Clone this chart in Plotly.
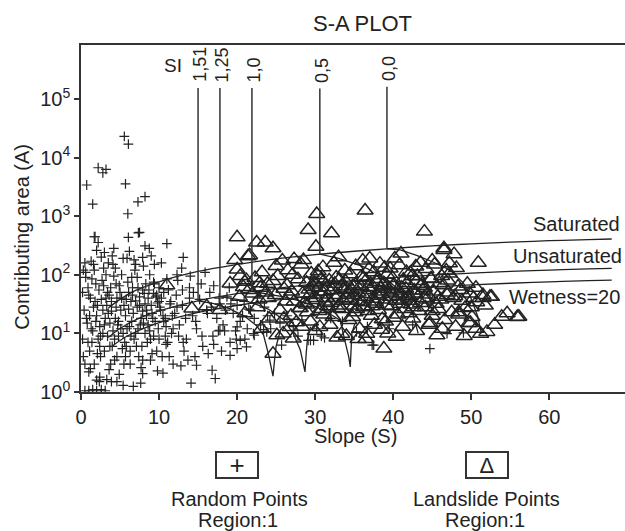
import math
import plotly.graph_objects as go

# ---------------- data ----------------
# Random points (crosses): slope (deg) and contributing area
random_S = [
    5.55, 6.07, 2.2, 2.8, 3.2, 0.73, 5.7, 1.5, 7.3, 8.2,
    1.7, 6.07, 7.5, 7.35, 4.2, 8.2, 8.75, 7.9, 13.1, 1.8,
    2.2, 0.5, 1.0, 1.5, 2.0, 2.6, 3.1, 2.35, 3.9, 5.4,
    6.7, 7.65, 14.1, 7.9, 10.5, 14.8, 16.8, 17.2, 2.4, 3.3,
    4.6, 19.1, 20.0, 21.2, 20.4, 17.8, 22.1, 20.0, 23.8, 25.7,
    29.4, 22.2, 23.4, 24.2, 29.1, 29.8, 35.3, 37.5, 44.7, 46.9,
    49.0, 37.3, 30.8, 31.2, 0.3, 0.6, 9.4, 12.3, 11.0, 6.0,
    0.4, 0.9, 1.3, 1.8, 2.2, 2.7, 3.1, 3.6, 4.0, 4.5,
    4.9, 5.4, 5.8, 6.3, 6.7, 7.2, 7.6, 8.1, 8.5, 9.0,
    9.4, 9.9, 10.3, 10.8, 11.2, 11.7, 0.6, 1.1, 1.6, 2.0,
    2.5, 2.9, 3.4, 3.8, 4.3, 4.7, 5.2, 5.6, 6.1, 6.5,
    7.0, 7.4, 7.9, 8.3, 8.8, 9.2, 9.7, 10.1, 10.6, 11.0,
    0.2, 0.8, 1.2, 1.7, 2.3, 2.8, 3.3, 3.7, 4.2, 4.6,
    5.1, 5.5, 6.0, 6.4, 6.9, 7.3, 7.8, 8.2, 8.7, 9.1,
    9.6, 10.0, 10.5, 10.9, 11.4, 11.8, 0.5, 1.0, 1.4, 1.9,
    2.4, 2.8, 3.2, 3.7, 4.1, 4.6, 5.0, 5.5, 5.9, 6.4,
    6.8, 7.3, 7.7, 8.2, 8.6, 9.1, 9.5, 10.0, 10.4, 10.9,
    1.1, 1.6, 2.1, 2.6, 3.0, 3.5, 3.9, 4.4, 4.8, 5.3,
    5.7, 6.2, 6.6, 7.1, 7.5, 8.0, 8.4, 8.9, 9.3, 9.8,
    1.3, 2.6, 3.5, 4.4, 5.9, 7.0, 3.0, 4.0, 2.0, 6.2,
    12.2, 12.6, 13.0, 13.5, 13.9, 14.3, 14.8, 15.2, 15.6, 16.1,
    16.5, 16.9, 17.4, 17.8, 18.2, 18.7, 19.1, 19.5, 20.0, 20.4,
    20.9, 21.3, 21.7, 22.2, 22.6, 23.0, 23.5, 23.9, 24.3, 24.8,
    12.4, 13.2, 14.0, 14.6, 15.4, 16.3, 17.0, 18.0, 19.0, 13.7,
    15.9, 17.6, 11.8, 12.9, 14.4, 16.7, 18.5, 19.8, 21.0, 25.5,
    26.4, 27.2, 28.3, 30.2, 33.5, 36.7, 39.5, 42.5, 27.8, 32.0,
    0.3, 0.7, 1.2, 1.5, 2.1, 2.4, 3.0, 3.4, 3.9, 4.3,
    4.8, 5.2, 5.7, 6.1, 6.6, 7.0, 7.5, 7.9, 8.4, 8.8,
    9.3, 9.7, 10.2, 10.6, 11.1, 11.5, 12.0, 12.5, 13.0, 13.4,
    0.9, 1.4, 1.9, 2.5, 3.2, 3.8, 4.5, 5.1, 5.8, 6.5,
    7.2, 7.9, 8.6, 9.3, 10.0, 10.8, 11.6, 12.3, 13.1, 13.9,
    14.7, 15.5, 16.2, 17.0, 17.7, 18.4, 19.2, 19.9, 20.7, 21.5,
    0.2, 0.5, 1.7, 2.9, 4.1, 5.4, 6.8, 8.0, 9.0, 10.3,
    1.0, 2.0, 3.6, 4.9, 6.3, 7.7, 8.9, 9.8, 11.3, 12.8,
]
random_A = [
    23000, 17000, 6700, 5500, 6300, 3400, 3550, 1600, 1750, 2150,
    445, 435, 530, 520, 283, 310, 283, 198, 198, 445,
    355, 1.05, 1.05, 1.1, 1.05, 1.1, 1.05, 1.5, 1.5, 1.3,
    1.25, 1.42, 1.42, 2.06, 2.1, 2.86, 2.35, 1.7, 1.8, 1.63,
    1.5, 4.2, 5.5, 5.9, 7.6, 11.3, 9.9, 12.9, 10.6, 6.3,
    7.6, 9.3, 11.6, 16.8, 7.6, 7.6, 10.6, 6.3, 5.5, 9.9,
    10.2, 6.3, 9.0, 8.4, 120, 110, 150, 100, 340, 1100,
    25, 60, 12, 35, 8, 80, 18, 45, 6, 28,
    65, 10, 38, 5, 22, 90, 14, 48, 7, 30,
    70, 12, 40, 9, 55, 20, 90, 5, 150, 20,
    4, 130, 9, 60, 3.5, 14, 100, 7, 50, 16,
    36, 4, 24, 70, 11, 18, 5, 28, 16, 85,
    8, 15, 40, 3, 55, 10, 30, 6, 95, 40,
    25, 3, 75, 9, 120, 12, 6, 32, 55, 4.5,
    42, 8, 20, 6.5, 32, 12, 3, 45, 7, 70,
    13, 25, 100, 15, 11, 4, 50, 30, 12, 35,
    8, 60, 18, 10, 40, 22, 16, 60, 4, 13,
    20, 28, 4.5, 38, 5, 22, 35, 18, 9, 5.5,
    20, 13, 45, 6, 30, 15, 25, 8, 48, 33,
    170, 200, 160, 130, 190, 150, 240, 210, 260, 250,
    45, 14, 30, 8, 60, 20, 12, 38, 6, 25,
    50, 9, 18, 32, 14, 42, 7, 22, 30, 16,
    35, 12, 25, 18, 40, 14, 28, 20, 12, 22,
    80, 5, 95, 4, 70, 4.5, 65, 5, 60, 3.5,
    110, 11, 3, 130, 50, 28, 25, 11, 8, 15,
    20, 13, 17, 12, 16, 13, 12, 14, 9, 18,
    4, 18, 2.5, 11, 30, 6, 14, 50, 24, 8,
    16, 40, 4, 26, 60, 10, 42, 3.5, 20, 100,
    9, 45, 25, 50, 7, 35, 22, 9, 55, 18,
    7, 85, 16, 9, 40, 3, 70, 12, 6, 90,
    28, 55, 14, 75, 35, 18, 10, 28, 7, 40,
    16, 9, 22, 6.5, 40, 11, 32, 8, 20, 26,
    50, 160, 120, 65, 150, 190, 180, 140, 210, 160,
    2.2, 1.6, 2.4, 2.0, 3.0, 2.6, 3.5, 2.3, 4.0, 2.8,
]

# Landslide points (triangles)
landslide_S = [
    36.4, 30.2, 29.1, 32.1, 44.0, 30.1, 46.5, 50.9, 37.0, 56.1,
    53.9, 52.6, 38.8, 45.6, 51.2, 52.0, 49.7, 33.4, 30.6, 36.6,
    20.0, 22.5, 23.6, 24.6, 21.4, 19.7, 20.0, 25.0, 11.0, 28.5,
    21.2, 14.2, 16.1, 25.1, 24.6, 26.8, 19.1, 21.0, 17.8, 21.6,
    20.4, 23.0, 54.6, 53.0, 51.8, 50.3, 47.8, 41.0, 35.5, 26.0,
    46.5, 47.2, 51.5, 55.9, 49.9, 52.4, 48.4, 50.6, 45.0, 43.1,
    20.8, 22.3, 23.9, 25.2, 26.4, 27.8, 28.9, 30.3, 31.5, 32.7,
    33.9, 34.8, 35.9, 37.1, 38.0, 39.2, 40.1, 41.3, 42.4, 43.6,
    44.8, 45.9, 47.0, 48.3, 49.5, 50.6, 27.1, 31.0, 36.5, 41.8,
    38.7, 33.1, 29.7, 24.6, 46.2, 43.0, 39.9, 35.2, 30.8, 22.9,
    26.5, 28.2, 29.5, 31.0, 32.4, 33.8, 35.2, 36.1, 37.5, 38.3,
    39.6, 40.8, 41.7, 42.9, 44.2, 45.3, 46.8, 48.1, 27.3, 30.4,
    34.5, 38.9, 43.5, 47.2, 23.2, 25.8, 33.0, 40.2, 36.9, 42.2,
    20.3, 21.5, 22.8, 23.7, 24.9, 26.0, 27.3, 28.4, 29.2, 30.1,
    31.2, 32.0, 33.0, 33.7, 34.6, 35.5, 36.3, 37.0, 37.8, 38.6,
    39.4, 40.3, 41.0, 41.9, 42.7, 43.5, 44.4, 45.2, 46.1, 47.0,
    47.9, 48.8, 49.8, 50.7, 51.5, 28.9, 32.6, 36.0, 39.0, 42.3,
    45.7, 34.2, 26.7, 30.7, 38.2, 43.9, 35.0, 40.7, 29.6, 37.4,
    21.0, 22.6, 24.1, 25.5, 26.9, 28.0, 29.4, 30.5, 31.6, 32.3,
    33.4, 34.3, 35.1, 36.2, 37.2, 38.1, 39.0, 39.8, 40.6, 41.5,
    42.5, 43.3, 44.1, 45.0, 45.8, 46.6, 47.5, 48.4, 49.2, 50.1,
    27.6, 31.1, 34.8, 38.6, 42.0, 44.7, 36.8, 33.0, 40.1, 29.0,
    23.1, 25.9, 28.3, 30.0, 31.9, 34.0, 35.7, 37.6, 39.3, 41.2,
    43.0, 44.6, 46.3, 48.0, 49.1, 32.8, 36.5, 40.4, 38.5, 27.2,
    27.0, 28.6, 30.0, 31.4, 32.9, 34.1, 35.4, 36.8, 38.0, 39.1,
    40.0, 41.4, 42.8, 44.0, 45.5, 46.9, 28.1, 29.9, 32.2, 33.6,
    35.8, 37.3, 38.8, 40.5, 42.1, 43.7, 45.0, 30.9, 34.9, 39.6,
    31.8, 36.2, 41.1, 44.9, 33.3, 37.9, 42.6, 35.3, 40.9, 38.4,
    29.3, 32.5, 43.8, 46.4, 48.6, 26.2, 24.0, 22.0, 47.7, 50.0,
    31.3, 34.0, 37.7, 39.7, 41.6, 36.6, 34.7, 44.3, 30.5, 42.0,
]
landslide_A = [
    1250, 1090, 580, 510, 545, 300, 283, 160, 190, 19.2,
    19.2, 42, 5.5, 9.3, 9.9, 10.6, 15.1, 9.9, 12.9, 9.9,
    435, 355, 355, 283, 208, 178, 123, 141, 66, 178,
    81, 26.6, 29, 9.3, 4.5, 12.9, 71, 76, 25, 215,
    95, 60, 22, 14, 30, 40, 225, 230, 8, 18,
    265, 157, 40, 19, 15, 42, 23, 12, 175, 95,
    62, 88, 70, 95, 66, 84, 73, 98, 61, 90,
    77, 64, 92, 70, 85, 100, 68, 82, 94, 65,
    86, 72, 80, 63, 70, 60, 100, 75, 80, 72,
    66, 82, 62, 78, 95, 78, 88, 68, 86, 72,
    120, 150, 105, 135, 160, 118, 140, 175, 110, 155,
    128, 145, 112, 138, 125, 150, 118, 130, 185, 115,
    102, 132, 160, 105, 110, 175, 200, 190, 125, 108,
    42, 55, 38, 50, 45, 58, 35, 48, 56, 40,
    52, 33, 45, 58, 38, 50, 42, 55, 32, 47,
    57, 36, 48, 41, 54, 33, 46, 52, 38, 50,
    43, 36, 48, 34, 45, 31, 40, 34, 38, 31,
    42, 48, 44, 46, 52, 40, 30, 44, 37, 39,
    22, 28, 18, 25, 20, 27, 16, 24, 29, 19,
    26, 17, 23, 28, 20, 25, 16, 29, 21, 26,
    18, 24, 28, 20, 26, 17, 23, 21, 27, 19,
    15.5, 21, 19, 17.5, 22, 15, 24, 30, 18.5, 23,
    12, 10, 13, 11, 14, 9, 12, 14, 10, 13,
    11, 14, 12, 13, 9, 8.5, 8, 8.8, 11.5, 8.2,
    52, 33, 68, 40, 27, 58, 36, 62, 44, 30,
    65, 38, 48, 60, 32, 45, 27, 74, 55, 36,
    64, 29, 72, 54, 36, 70, 24, 26, 45, 42,
    80, 88, 60, 85, 63, 75, 28, 26, 32, 58,
    45, 70, 54, 66, 55, 35, 40, 48, 40, 28,
    35, 40, 35, 50, 58, 47, 55, 38, 60, 44,
]

# Wetness lines
line_S = [3.5, 5, 7, 10, 15, 20, 25, 30, 35, 40, 45, 50, 55, 60, 65, 68]
saturated_A = [27, 38, 54, 76, 114, 150, 186, 220, 252, 283, 311, 337, 360, 381, 399, 408]
unsaturated_A = [8.5, 12.1, 17, 24.1, 36, 47.5, 58.7, 69.5, 79.7, 89.3, 98.3, 106.5, 113.9, 120.4, 126, 128.9]
wet20_S = [4, 6, 9, 13, 17, 21, 25, 30, 35, 40, 45, 50, 55, 60, 65, 68]
wet20_A = [6.1, 9.1, 13.7, 19.7, 25.6, 31.4, 37, 43.8, 50.2, 56.2, 61.9, 67, 71.7, 75.8, 79.3, 81.1]

# Stability index lines: label, vertical-line slope, top area, then lower curve
si_labels = ["1,51", "1,25", "1,0", "0,5", "0,0"]
si_slope = [15.0, 17.8, 21.9, 30.6, 39.2]
si_top_A = [1.53e5, 1.53e5, 1.53e5, 1.5e5, 1.62e5]
si_curve_S = [
    [15.0, 17.0, 19.0, 21.0, 22.5, 23.4, 24.0, 24.4, 24.6, 24.8, 25.0, 25.6],
    [17.8, 20.0, 22.0, 24.0, 26.0, 27.2, 28.1, 28.5, 28.7, 28.85, 29.0, 29.4],
    [21.9, 24.0, 26.0, 28.0, 30.0, 32.0, 33.2, 33.8, 34.3, 34.5, 34.7, 35.1],
    [30.6, 33.0, 36.0, 39.0, 41.0, 42.5, 43.2],
    [39.2, 40.9, 43.0, 45.1, 47.3, 49.0, 49.9, 50.8, 51.3],
]
si_curve_A = [
    [36, 32.2, 26.4, 19.5, 13.5, 9.3, 4.5, 2.4, 1.86, 3.5, 6.0, 12],
    [42.5, 38, 33, 26, 17, 9.9, 5.2, 3.1, 2.2, 4.5, 7.6, 13],
    [52, 47, 42, 36, 29, 21, 16.8, 7.6, 4.0, 2.67, 9.9, 15],
    [224, 190, 140, 90, 50, 22, 10],
    [278, 265, 215, 165, 120, 72, 42, 20, 10],
]

# tick values
x_ticks = [0, 10, 20, 30, 40, 50, 60]
y_ticks = [1, 10, 100, 1000, 10000, 100000]
y_ticktext = ["10<sup>0</sup>", "10<sup>1</sup>", "10<sup>2</sup>", "10<sup>3</sup>",
              "10<sup>4</sup>", "10<sup>5</sup>"]

# ---------------- figure ----------------
INK = "#222222"
FONT = "Liberation Sans, Arial, Helvetica, sans-serif"
X_RANGE = [0, 69.7]
Y_RANGE = [0, 5.92]

fig = go.Figure()


def add_line(xs, ys, width=1.3, color=INK, shape="linear"):
    fig.add_trace(go.Scatter(x=xs, y=ys, mode="lines", hoverinfo="skip", showlegend=False,
                             line=dict(color=color, width=width, shape=shape)))


fig.add_trace(go.Scatter(x=random_S, y=random_A, mode="markers", showlegend=False,
                         marker=dict(symbol="cross-thin-open", size=7, color=INK,
                                     line=dict(color=INK, width=1.2))))
fig.add_trace(go.Scatter(x=landslide_S, y=landslide_A, mode="markers", showlegend=False,
                         marker=dict(symbol="triangle-up-open", size=14, color=INK,
                                     line=dict(color=INK, width=1.5))))

add_line(line_S, saturated_A, shape="spline")
add_line(line_S, unsaturated_A, shape="spline")
add_line(wet20_S, wet20_A, shape="spline")

for i in range(len(si_labels)):
    bottom = si_curve_A[i][0]
    add_line([si_slope[i], si_slope[i]], [si_top_A[i], bottom], width=1.5, color="#333333")
    add_line(si_curve_S[i], si_curve_A[i])
    fig.add_annotation(x=si_slope[i], y=math.log10(si_top_A[i]), xref="x", yref="y",
                       text=si_labels[i], textangle=-90, showarrow=False,
                       xanchor="center", yanchor="bottom", yshift=4, xshift=2,
                       font=dict(size=18, family=FONT, color=INK))

fig.add_annotation(x=13.2, y=math.log10(1.53e5), xref="x", yref="y", text="SI",
                   showarrow=False, xanchor="right", yanchor="bottom", yshift=10,
                   font=dict(size=19, family=FONT, color=INK))

# helpers to convert reference pixel positions to paper coords
L, T, W, H = 81, 45, 544, 346.7


def px(x):
    return (x - L) / W


def py(y):
    return (T + H - y) / H


texts = [
    ("S-A PLOT", 362, 23.5, 22, "center"),
    ("Saturated", 622, 224, 20, "right"),
    ("Unsaturated", 624, 256, 20, "right"),
    ("Wetness=20", 622, 297, 20, "right"),
    ("Slope (S)", 355, 436, 20, "center"),
    ("Random Points", 239, 499, 20, "center"),
    ("Region:1", 238, 520, 20, "center"),
    ("Landslide Points", 486, 499, 20, "center"),
    ("Region:1", 485, 520, 20, "center"),
]
for t, x, y, s, anc in texts:
    fig.add_annotation(x=px(x), y=py(y), xref="paper", yref="paper", text=t, showarrow=False,
                       xanchor=anc, yanchor="middle", font=dict(size=s, family=FONT, color=INK))

fig.add_annotation(x=px(22), y=py(236.5), xref="paper", yref="paper", text="Contributing area (A)",
                   textangle=-90, showarrow=False, xanchor="center", yanchor="middle",
                   font=dict(size=20, family=FONT, color=INK))

# legend boxes
for sym, cx, fs in [("+", 237, 26), ("Δ", 487, 22)]:
    fig.add_annotation(x=px(cx), y=py(465), xref="paper", yref="paper", text=sym, showarrow=False,
                       xanchor="center", yanchor="middle", width=38, height=22,
                       bordercolor="#333333", borderwidth=2, borderpad=1, bgcolor="white",
                       font=dict(size=fs, family=FONT, color=INK))

minor_vals = [m * 10 ** d for d in range(0, 6) for m in range(2, 10)]

fig.update_layout(
    width=625, height=531,
    margin=dict(l=81, r=0, t=45, b=139, pad=0),
    paper_bgcolor="white", plot_bgcolor="white",
    showlegend=False,
    font=dict(family=FONT, color=INK),
    xaxis=dict(range=X_RANGE, showgrid=False, zeroline=False, showline=True, mirror=True,
               linecolor="#333333", linewidth=1.6, ticks="outside", ticklen=6, tickwidth=1.6,
               tickcolor="#333333", tickvals=x_ticks, tickfont=dict(size=20, family=FONT, color=INK)),
    xaxis2=dict(range=X_RANGE, overlaying="x", anchor="y", side="bottom", showgrid=False,
                zeroline=False, showline=False, ticks="inside", ticklen=8, tickwidth=1.6,
                tickcolor="#333333", tick0=0, dtick=5, showticklabels=False),
    yaxis=dict(type="log", range=Y_RANGE, showgrid=False, zeroline=False, showline=True,
               linecolor="#333333", linewidth=1.6, ticks="outside", ticklen=5, tickwidth=1.6,
               tickcolor="#333333", tickvals=y_ticks, ticktext=y_ticktext,
               tickfont=dict(size=20, family=FONT, color=INK)),
    yaxis2=dict(type="log", range=Y_RANGE, overlaying="y", anchor="x", side="left", showgrid=False,
                zeroline=False, showline=False, ticks="inside", ticklen=5, tickwidth=1.4,
                tickcolor="#333333", tickvals=y_ticks, showticklabels=False,
                minor=dict(ticks="inside", ticklen=5, tickwidth=1, tickcolor="#333333",
                           tickvals=minor_vals)),
)

fig.write_html("out.html", config={"displayModeBar": False},
               post_script="document.body.style.margin='0px';")
